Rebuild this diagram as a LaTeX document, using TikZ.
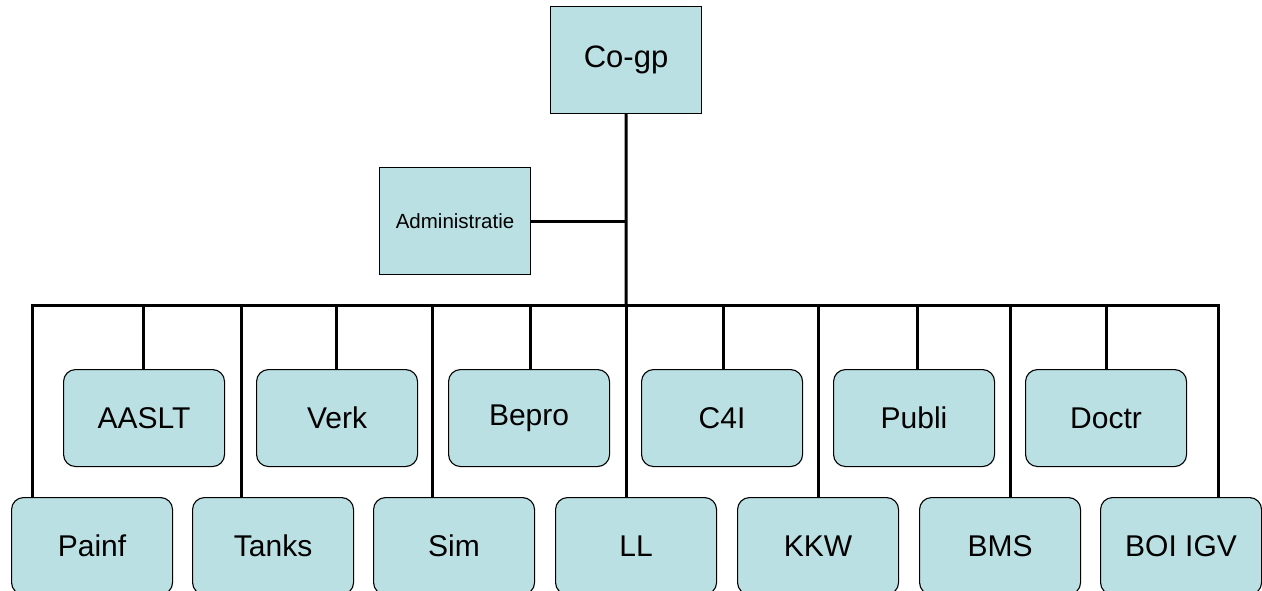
\documentclass[tikz,border=0pt]{standalone}
\usepackage{fontspec}
\setmainfont{Liberation Sans}
\definecolor{boxfill}{RGB}{187,224,227}
\begin{document}
\begin{tikzpicture}[x=1pt,y=-1pt,
  sqbox/.style={draw=black,line width=1.1pt,fill=boxfill,inner sep=0pt,
    minimum width=151pt,minimum height=107pt,anchor=north west},
  rbox/.style={draw=black,line width=1.1pt,fill=boxfill,inner sep=0pt,rounded corners=12pt,
    minimum width=161pt,minimum height=97pt,anchor=north west,
    font=\fontsize{30}{34}\selectfont},
  conn/.style={draw=black,line width=3pt,line join=miter}]
\useasboundingbox (0,0) rectangle (1262,591);
\fill[white] (0,0) rectangle (1262,591);
% top boxes
\node[sqbox,font=\fontsize{31}{36}\selectfont] (cogp) at (550,6) {Co-gp};
\node[sqbox,font=\fontsize{20.5}{24}\selectfont] (admin) at (379,167) {Administratie};
% upper row
\node[rbox] (aaslt) at (63,369) {AASLT};
\node[rbox] (verk) at (256,369) {Verk};
\node[rbox] (bepro) at (448,369) {Bepro};
\node[rbox] (c4i) at (641,369) {C4I};
\node[rbox] (publi) at (833,369) {Publi};
\node[rbox] (doctr) at (1025,369) {Doctr};
% lower row
\node[rbox] (painf) at (11,497) {Painf};
\node[rbox] (tanks) at (192,497) {Tanks};
\node[rbox] (sim) at (373,497) {Sim};
\node[rbox] (ll) at (555,497) {LL};
\node[rbox] (kkw) at (737,497) {KKW};
\node[rbox] (bms) at (919,497) {BMS};
\node[rbox] (boi) at (1100,497) {BOI IGV};
% bus coordinates
\coordinate (b1) at (32,305);
\coordinate (b2) at (241,305);
\coordinate (b3) at (432,305);
\coordinate (b4) at (626,305);
\coordinate (b5) at (818,305);
\coordinate (b6) at (1010,305);
\coordinate (b7) at (1218,305);
\coordinate (u1) at (143,305);
\coordinate (u2) at (336,305);
\coordinate (u3) at (530,305);
\coordinate (u4) at (723,305);
\coordinate (u5) at (917,305);
\coordinate (u6) at (1106,305);
% connectors
\draw[conn] (painf.north -| b1) -- (b1) -- (b7) -- (b7 |- boi.north);
\draw[conn] (cogp.south) -- (b4);
\draw[conn] (admin.east) -- (admin.east -| cogp.south);
\draw[conn] (b2) -- (b2 |- tanks.north);
\draw[conn] (b3) -- (b3 |- sim.north);
\draw[conn] (b4) -- (b4 |- ll.north);
\draw[conn] (b5) -- (b5 |- kkw.north);
\draw[conn] (b6) -- (b6 |- bms.north);
\draw[conn] (u1) -- (u1 |- aaslt.north);
\draw[conn] (u2) -- (u2 |- verk.north);
\draw[conn] (u3) -- (u3 |- bepro.north);
\draw[conn] (u4) -- (u4 |- c4i.north);
\draw[conn] (u5) -- (u5 |- publi.north);
\draw[conn] (u6) -- (u6 |- doctr.north);
\end{tikzpicture}
\end{document}
